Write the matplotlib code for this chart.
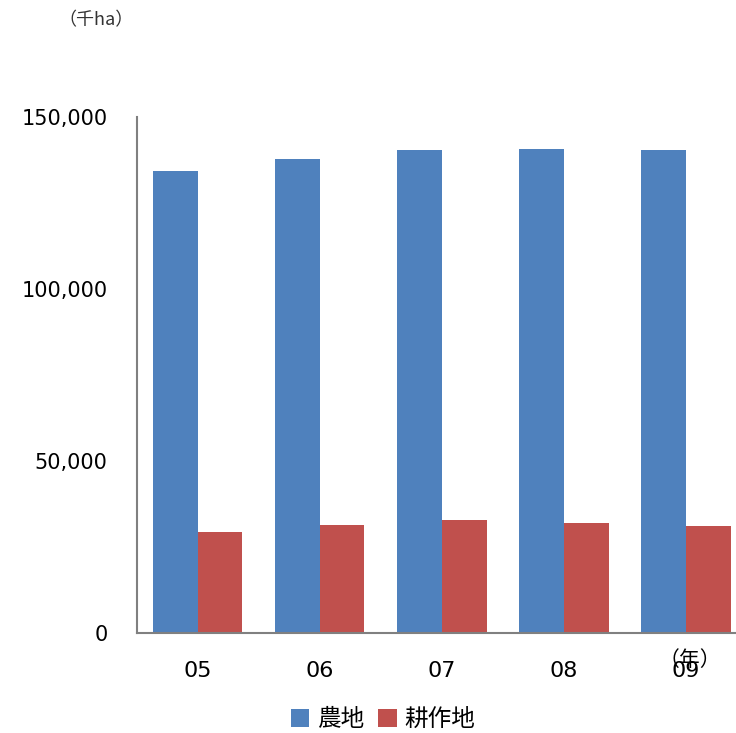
import numpy as np
import matplotlib.pyplot as plt

plt.rcParams['font.family'] = ['Noto Sans CJK JP', 'DejaVu Sans']

years = ['05', '06', '07', '08', '09']
nouchi = [134300, 137800, 140400, 140700, 140400]   # 農地
kousaku = [29400, 31400, 32800, 32000, 31100]       # 耕作地

fig = plt.figure(figsize=(7.36, 7.33), dpi=100)
ax = fig.add_axes([0.186, 0.1364, 0.829, 0.704])

x = np.arange(len(years))
w = 0.365
ax.bar(x - w/2, nouchi, w, color='#4f81bd', label='農地')
ax.bar(x + w/2, kousaku, w, color='#c0504d', label='耕作地')

ax.set_xlim(-0.5, len(years) - 0.5)
ax.set_ylim(0, 150000)
ax.set_yticks([0, 50000, 100000, 150000])
ax.set_yticklabels(['0', '50,000', '100,000', '150,000'], family='DejaVu Sans')
ax.set_xticks(x)
ax.set_xticklabels(years, family='DejaVu Sans')
ax.tick_params(axis='y', length=0, pad=21, labelsize=15)
ax.tick_params(axis='x', length=0, pad=20, labelsize=16)

for s in ['top', 'right']:
    ax.spines[s].set_visible(False)
for s in ['left', 'bottom']:
    ax.spines[s].set_color('#808080')
    ax.spines[s].set_linewidth(1.5)

fig.text(0.13, 0.972, '（千ha）', fontsize=13, ha='center', va='center', color='#333333')
fig.text(0.937, 0.1, '（年）', fontsize=15, ha='center', va='center')

fig.legend(loc='center', bbox_to_anchor=(0.52, 0.018), ncol=2, frameon=False,
           fontsize=17, handlelength=0.8, handleheight=0.8, handletextpad=0.3,
           columnspacing=0.6)

fig.savefig('out.png', dpi=100)
